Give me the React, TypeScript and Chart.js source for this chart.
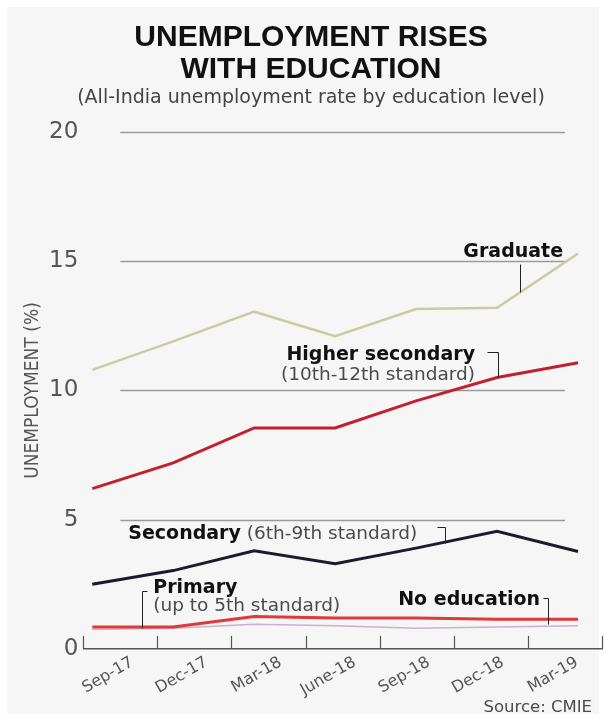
import React, { useEffect, useRef } from 'react';
import { Chart, registerables } from 'chart.js';

Chart.register(...registerables);

// ---- data ----
const categories = ['Sep-17', 'Dec-17', 'Mar-18', 'June-18', 'Sep-18', 'Dec-18', 'Mar-19'];
const graduate = [10.8, 11.9, 13.05, 12.1, 13.15, 13.2, 15.3];
const higherSecondary = [6.2, 7.2, 8.55, 8.55, 9.6, 10.5, 11.07];
const secondary = [2.5, 3.03, 3.8, 3.3, 3.9, 4.55, 3.77];
const primary = [0.85, 0.85, 1.25, 1.2, 1.2, 1.15, 1.15];
const noEducation = [0.75, 0.8, 0.95, 0.9, 0.8, 0.85, 0.9];
const yTicks = [0, 5, 10, 15, 20];

const titleLines = ['UNEMPLOYMENT RISES', 'WITH EDUCATION'];
const subtitleText = '(All-India unemployment rate by education level)';
const yTitle = 'UNEMPLOYMENT (%)';
const sourceText = 'Source: CMIE';

// ---- styles ----
const SANS = '"DejaVu Sans", sans-serif';
const BOLD_FONT = 'bold 19px "DejaVu Sans", sans-serif';
const REG_FONT = '18.5px "DejaVu Sans", sans-serif';

// annotation anchors, in data coordinates (x = series index, y = value)
type Seg = { text: string; bold: boolean };
const notes: { segs: Seg[]; x: number; y: number; align: 'left' | 'right' }[] = [
  { segs: [{ text: 'Graduate', bold: true }], x: 5.815, y: 15.34, align: 'right' },
  { segs: [{ text: 'Higher secondary', bold: true }], x: 4.728, y: 11.38, align: 'right' },
  { segs: [{ text: '(10th-12th standard)', bold: false }], x: 4.728, y: 10.6, align: 'right' },
  { segs: [{ text: 'Secondary', bold: true }, { text: ' (6th-9th standard)', bold: false }], x: 0.445, y: 4.43, align: 'left' },
  { segs: [{ text: 'Primary', bold: true }], x: 0.753, y: 2.37, align: 'left' },
  { segs: [{ text: '(up to 5th standard)', bold: false }], x: 0.753, y: 1.67, align: 'left' },
  { segs: [{ text: 'No education', bold: true }], x: 5.531, y: 1.9, align: 'right' },
];
const leaders: number[][][] = [
  [[5.284, 14.91], [5.284, 13.83]],
  [[4.876, 11.5], [5.012, 11.5], [5.012, 10.52]],
  [[4.259, 4.7], [4.358, 4.7], [4.358, 4.08]],
  [[0.679, 2.25], [0.617, 2.25], [0.617, 0.82]],
  [[5.568, 1.98], [5.63, 1.98], [5.63, 0.97]],
];

const X_MIN = -0.111;
const X_MAX = 6.296;

const toPoints = (arr: number[]) => arr.map((v, i) => ({ x: i, y: v }));

const gridPlugin = {
  id: 'customGrid',
  beforeDatasetsDraw(chart: any) {
    const { ctx } = chart;
    const ys = chart.scales.y;
    const xc = chart.scales.xc;
    const x0 = xc.getPixelForValue(0);
    const x1 = xc.getPixelForValue(categories.length - 1);
    ctx.save();
    ctx.strokeStyle = '#9a9a9a';
    ctx.lineWidth = 1.5;
    yTicks.filter((v) => v > 0).forEach((v) => {
      const y = Math.round(ys.getPixelForValue(v)) + 0.5;
      ctx.beginPath();
      ctx.moveTo(x0, y);
      ctx.lineTo(x1, y);
      ctx.stroke();
    });
    // upward tick marks on the x axis at category boundaries
    const bottom = xc.top;
    const n = categories.length;
    ctx.strokeStyle = '#555';
    ctx.lineWidth = 1.2;
    for (let i = 0; i <= n; i++) {
      const x = Math.round(xc.left + (i * xc.width) / n) + 0.5;
      ctx.beginPath();
      ctx.moveTo(x, bottom);
      ctx.lineTo(x, bottom - 13);
      ctx.stroke();
    }
    ctx.restore();
  },
};

const annotationPlugin = {
  id: 'annotations',
  afterDatasetsDraw(chart: any) {
    const { ctx } = chart;
    const xs = chart.scales.x;
    const ys = chart.scales.y;
    const px = (v: number) => xs.getPixelForValue(v);
    const py = (v: number) => ys.getPixelForValue(v);
    ctx.save();
    ctx.strokeStyle = '#222';
    ctx.lineWidth = 1;
    leaders.forEach((pts) => {
      ctx.beginPath();
      pts.forEach((p, i) => {
        const x = Math.round(px(p[0])) + 0.5;
        const y = Math.round(py(p[1])) + 0.5;
        if (i === 0) ctx.moveTo(x, y);
        else ctx.lineTo(x, y);
      });
      ctx.stroke();
    });
    ctx.textBaseline = 'middle';
    ctx.textAlign = 'left';
    notes.forEach((n) => {
      const widths = n.segs.map((s) => {
        ctx.font = s.bold ? BOLD_FONT : REG_FONT;
        return ctx.measureText(s.text).width;
      });
      const total = widths.reduce((a, b) => a + b, 0);
      let x = n.align === 'left' ? px(n.x) : px(n.x) - total;
      const y = py(n.y);
      n.segs.forEach((s, i) => {
        ctx.font = s.bold ? BOLD_FONT : REG_FONT;
        ctx.fillStyle = s.bold ? '#111' : '#4a4a4a';
        ctx.fillText(s.text, x, y);
        x += widths[i];
      });
    });
    ctx.restore();
  },
  afterDraw(chart: any) {
    const { ctx, chartArea } = chart;
    ctx.save();
    ctx.font = '16.5px "DejaVu Sans", sans-serif';
    ctx.fillStyle = '#4a4a4a';
    ctx.textAlign = 'right';
    ctx.textBaseline = 'middle';
    ctx.fillText(sourceText, chartArea.right - 10, chart.height - 11);
    ctx.restore();
  },
};

export default function App() {
  const canvasRef = useRef<HTMLCanvasElement | null>(null);

  useEffect(() => {
    const canvas = canvasRef.current;
    if (!canvas) return;
    const chart = new Chart(canvas, {
      type: 'line',
      data: {
        datasets: [
          { label: 'Graduate', data: toPoints(graduate), borderColor: '#cbcba2', borderWidth: 2.5, xAxisID: 'x', yAxisID: 'y' },
          { label: 'Higher secondary', data: toPoints(higherSecondary), borderColor: '#c3202f', borderWidth: 3, xAxisID: 'x', yAxisID: 'y' },
          { label: 'Secondary', data: toPoints(secondary), borderColor: '#1c1c28', borderWidth: 3, xAxisID: 'x', yAxisID: 'y' },
          { label: 'Primary', data: toPoints(primary), borderColor: '#e0393a', borderWidth: 3, xAxisID: 'x', yAxisID: 'y' },
          { label: 'No education', data: toPoints(noEducation), borderColor: '#c6b5c8', borderWidth: 1.5, xAxisID: 'x', yAxisID: 'y' },
        ],
      },
      options: {
        responsive: false,
        animation: false,
        devicePixelRatio: 1,
        elements: { point: { radius: 0 }, line: { tension: 0 } },
        layout: { padding: { left: 20, right: 2, top: 0, bottom: 15 } },
        plugins: {
          legend: { display: false },
          tooltip: { enabled: false },
          title: {
            display: true,
            text: titleLines,
            color: '#111',
            font: { family: '"Liberation Sans", Arial, sans-serif', weight: 'bold', size: 30, lineHeight: 1.07 },
            padding: { top: 22, bottom: 1 },
          },
          subtitle: {
            display: true,
            text: subtitleText,
            color: '#444',
            font: { family: SANS, size: 19, lineHeight: 1.1 },
            padding: { top: 0, bottom: 24 },
          },
        },
        scales: {
          x: { type: 'linear', display: false, min: X_MIN, max: X_MAX },
          xc: {
            type: 'category',
            labels: categories,
            position: 'bottom',
            offset: true,
            grid: { display: false, drawTicks: false },
            border: { display: true, color: '#555', width: 1.5 },
            ticks: {
              color: '#555',
              font: { family: SANS, size: 16 },
              minRotation: 30,
              maxRotation: 30,
              labelOffset: 12,
              padding: 4,
              autoSkip: false,
            },
          },
          y: {
            type: 'linear',
            min: 0,
            max: 20,
            grid: { display: false, drawTicks: false },
            border: { display: false },
            afterBuildTicks: (scale: any) => {
              scale.ticks = yTicks.map((v) => ({ value: v }));
            },
            ticks: {
              color: '#555',
              font: { family: SANS, size: 23 },
              padding: 5,
            },
            title: {
              display: true,
              text: yTitle,
              color: '#555',
              font: { family: '"Liberation Sans Narrow", "DejaVu Sans Condensed", Roboto, sans-serif', size: 19, lineHeight: 1.0 },
              padding: { top: 4, bottom: 1 },
            },
          },
        },
      },
      plugins: [gridPlugin, annotationPlugin],
    } as any);
    return () => chart.destroy();
  }, []);

  return (
    <div style={{ position: 'fixed', left: 0, top: 0, width: 604, height: 719, background: '#ffffff' }}>
      <div style={{ position: 'absolute', left: 7, top: 7, width: 592, height: 707, background: '#f6f6f6' }} />
      <canvas ref={canvasRef} width={604} height={719} style={{ position: 'absolute', left: 0, top: 0, display: 'block' }} />
    </div>
  );
}
